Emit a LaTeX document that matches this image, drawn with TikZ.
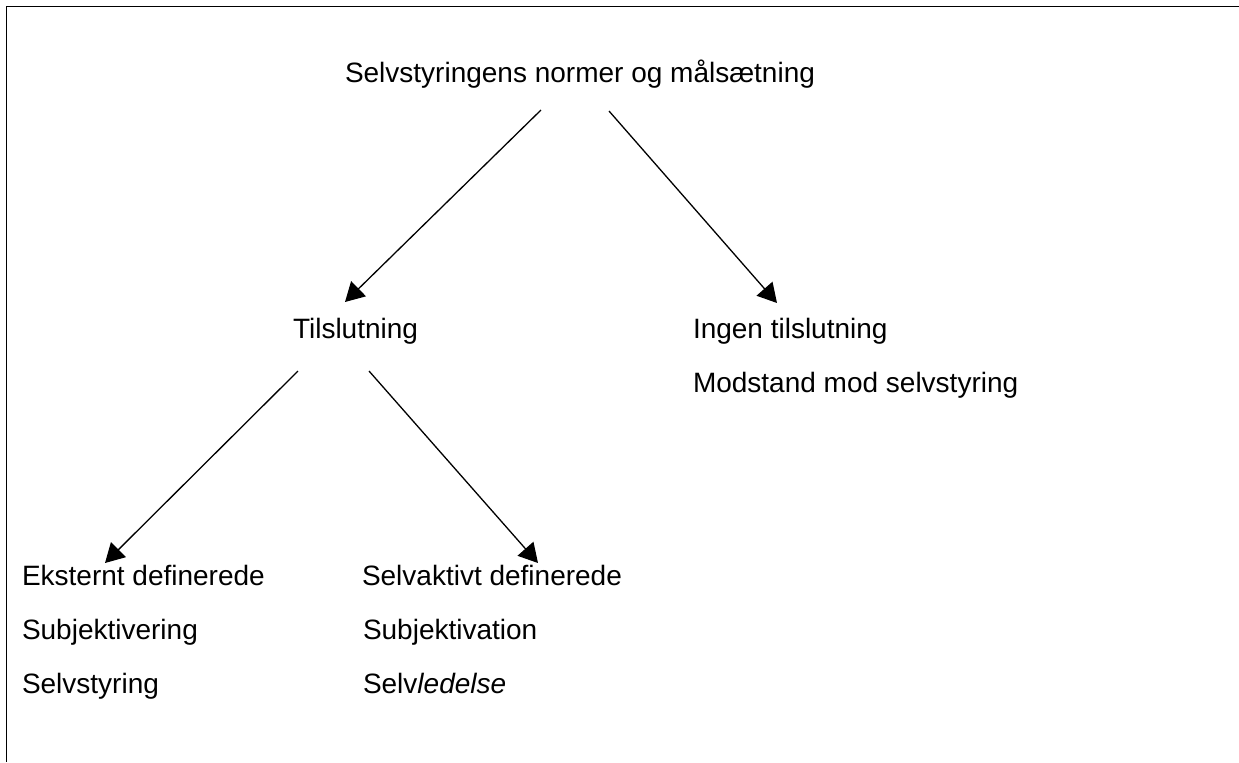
\documentclass[tikz,border=0pt]{standalone}
\usepackage{fontspec}
\setmainfont{Liberation Sans}
\usetikzlibrary{arrows.meta}
\tikzset{
  lbl/.style={anchor=base west, inner sep=0pt, outer sep=0pt, font=\fontsize{14pt}{16pt}\selectfont},
  conn/.style={line width=0.65pt, -{Triangle[length=9.5pt,width=10.5pt]}},
  frame/.style={line width=0.8pt}
}
\begin{document}
\begin{tikzpicture}[x=0.5pt,y=-0.5pt]
\useasboundingbox (0,0) rectangle (1239,762);
\fill[white] (0,0) rectangle (1239,762);
% frame (top and left edges)
\coordinate (fa) at (1239,6.5);
\coordinate (fb) at (6.5,6.5);
\coordinate (fc) at (6.5,762);
\draw[frame] (fa) -- (fb) -- (fc);
% texts
\node[lbl] (title) at (345,82) {Selvstyringens normer og målsætning};
\node[lbl] (tils) at (293,338) {Tilslutning};
\node[lbl] (ingen) at (693,338) {Ingen tilslutning};
\node[lbl] (mod) at (693,392) {Modstand mod selvstyring};
\node[lbl] (eks) at (22,585) {Eksternt definerede};
\node[lbl] (subj1) at (22,639) {Subjektivering};
\node[lbl] (selvst) at (22,693) {Selvstyring};
\node[lbl] (selvakt) at (362,585) {Selvaktivt definerede};
\node[lbl] (subj2) at (363,639) {Subjektivation};
\node[lbl] (selvled) at (363,693) {Selv\textit{ledelse}};
% connector end points
\coordinate (a1s) at (541,110);
\coordinate (a1e) at (345,302);
\coordinate (a2s) at (609,111);
\coordinate (a2e) at (777,303);
\coordinate (a3s) at (298,371);
\coordinate (a3e) at (105,563);
\coordinate (a4s) at (369,371);
\coordinate (a4e) at (538,563);
\draw[conn] (a1s) -- (a1e);
\draw[conn] (a2s) -- (a2e);
\draw[conn] (a3s) -- (a3e);
\draw[conn] (a4s) -- (a4e);
\end{tikzpicture}
\end{document}
